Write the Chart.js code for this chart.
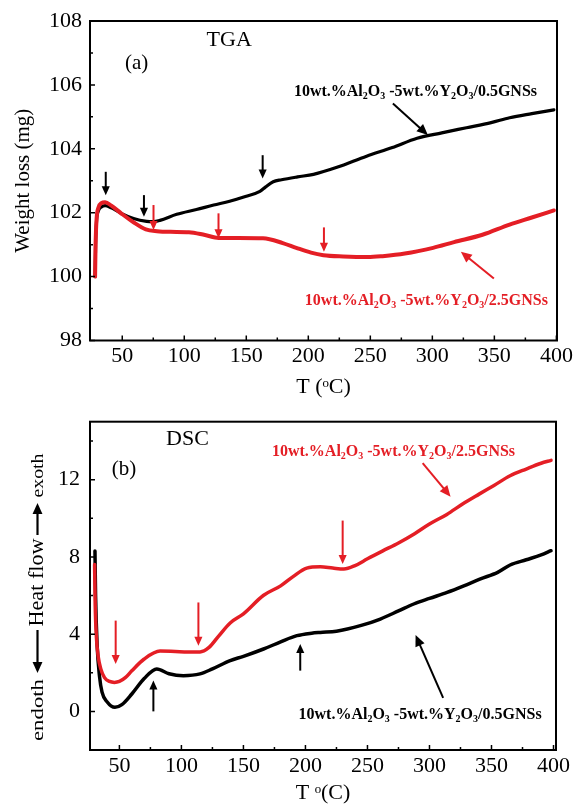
<!DOCTYPE html>
<html>
<head>
<meta charset="utf-8">
<script src="https://cdn.jsdelivr.net/npm/chart.js@4.4.1/dist/chart.umd.min.js"></script>
<style>
  body { margin: 0; background: #fff; width: 576px; height: 810px; overflow: hidden; position: relative; }
  canvas { position: absolute; left: 0; }
</style>
</head>
<body>
<canvas id="tga" width="576" height="400" style="top:0"></canvas>
<canvas id="dsc" width="576" height="410" style="top:400px"></canvas>
<script>
// ---- data ----
const xTicks = [50, 100, 150, 200, 250, 300, 350, 400];
const tgaTicks = [98, 100, 102, 104, 106, 108];
const dscTicks = [0, 4, 8, 12];

const labelLow = '10wt.%Al_2O_3 -5wt.%Y_2O_3/0.5GNSs';
const labelHigh = '10wt.%Al_2O_3 -5wt.%Y_2O_3/2.5GNSs';

// TGA, 2.5 GNSs (red)
const tgaRedT = [28.1, 28.5, 29.3, 30.7, 33.2, 36.2, 41.2, 49.1, 59.1, 69, 78, 88.9, 103.8, 116.7, 127.7, 143.6, 163.5, 179.4, 190.3, 202.2, 212.2, 228.1, 248, 259.9, 277.8, 300.6, 317.5, 340.4, 362.3, 380.2, 398];
const tgaRedW = [100.0, 101.0, 101.8, 102.15, 102.3, 102.33, 102.22, 101.98, 101.7, 101.48, 101.42, 101.4, 101.39, 101.3, 101.21, 101.21, 101.2, 101.05, 100.9, 100.75, 100.67, 100.63, 100.61, 100.64, 100.72, 100.9, 101.08, 101.31, 101.63, 101.85, 102.07];
// TGA, 0.5 GNSs (black)
const tgaBlackT = [28.1, 28.5, 29.3, 30.7, 33.2, 36.2, 41.2, 49.1, 59.1, 69.7, 75, 80.4, 93.9, 109.8, 123.7, 136.6, 148.6, 161, 165.4, 171.7, 178.4, 191.3, 204.2, 223.1, 247, 267.8, 287.7, 307.6, 327.5, 347.4, 362.3, 380.2, 398];
const tgaBlackW = [100.0, 101.0, 101.75, 102.05, 102.18, 102.22, 102.15, 101.98, 101.82, 101.73, 101.72, 101.76, 101.95, 102.1, 102.24, 102.36, 102.5, 102.67, 102.8, 102.97, 103.03, 103.12, 103.2, 103.42, 103.77, 104.04, 104.33, 104.5, 104.66, 104.82, 104.97, 105.1, 105.22];

// DSC, 2.5 GNSs (red)
const dscRedT = [30, 30.5, 31.5, 33, 35, 38, 42, 46, 50, 55, 60, 70, 82.8, 95, 105, 115, 122, 130, 139.3, 150, 166, 180, 190, 201, 212, 222, 231, 240, 250, 262, 275, 288, 300, 314, 327, 340, 352, 365, 378, 390, 398];
const dscRedH = [7.6, 5.5, 3.8, 2.8, 2.2, 1.75, 1.55, 1.5, 1.55, 1.76, 2.1, 2.71, 3.12, 3.1, 3.08, 3.08, 3.3, 3.9, 4.58, 5.05, 6.0, 6.5, 6.98, 7.42, 7.49, 7.42, 7.37, 7.55, 7.9, 8.3, 8.72, 9.2, 9.7, 10.2, 10.75, 11.25, 11.7, 12.2, 12.55, 12.85, 13.0];
// DSC, 0.5 GNSs (black)
const dscBlackT = [30.3, 30.8, 32, 34, 36, 40, 46.4, 52, 60, 70, 80.1, 90, 101.6, 115, 125, 139.3, 150, 166.2, 180, 193.1, 205, 212, 225, 245, 260.4, 275, 287.3, 300, 314.2, 327.7, 341.1, 355, 365, 378, 390, 398];
const dscBlackH = [8.3, 6.0, 3.5, 1.8, 1.0, 0.5, 0.21, 0.35, 0.9, 1.7, 2.2, 1.95, 1.85, 1.94, 2.2, 2.63, 2.85, 3.23, 3.6, 3.92, 4.05, 4.09, 4.15, 4.45, 4.78, 5.2, 5.56, 5.85, 6.16, 6.5, 6.86, 7.2, 7.58, 7.85, 8.1, 8.32];

// ---- styling ----
const FONT = '"Liberation Serif", "Times New Roman", serif';
const RED = '#e41e25';
const BLACK = '#000';

const pts = (xs, ys) => xs.map((x, i) => ({ x, y: ys[i] }));

// text with _2 style subscripts, left anchored, y = visual middle
function rich(ctx, str, x, y, size, bold, color) {
  const parts = str.split(/_(\d)/);
  const w = bold ? 'bold ' : '';
  const big = w + size + 'px ' + FONT;
  const small = w + Math.round(size * 0.62) + 'px ' + FONT;
  const base = y + size * 0.33;
  ctx.fillStyle = color;
  ctx.textAlign = 'left';
  ctx.textBaseline = 'alphabetic';
  let px = x;
  parts.forEach((p, i) => {
    ctx.font = i % 2 ? small : big;
    ctx.fillText(p, px, i % 2 ? base + size * 0.2 : base);
    px += ctx.measureText(p).width;
  });
}

function arrow(ctx, x1, y1, x2, y2, color, lw, head) {
  const a = Math.atan2(y2 - y1, x2 - x1);
  const hw = head * 0.45;
  ctx.strokeStyle = color;
  ctx.fillStyle = color;
  ctx.lineWidth = lw;
  ctx.beginPath();
  ctx.moveTo(x1, y1);
  ctx.lineTo(x2 - Math.cos(a) * head * 0.8, y2 - Math.sin(a) * head * 0.8);
  ctx.stroke();
  ctx.beginPath();
  ctx.moveTo(x2, y2);
  ctx.lineTo(x2 - Math.cos(a) * head - Math.sin(a) * hw, y2 - Math.sin(a) * head + Math.cos(a) * hw);
  ctx.lineTo(x2 - Math.cos(a) * head + Math.sin(a) * hw, y2 - Math.sin(a) * head - Math.cos(a) * hw);
  ctx.closePath();
  ctx.fill();
}

// frame, inward ticks, labels and arrows
function decor(o) {
  return {
    id: 'decor',
    afterDraw(chart) {
      const { ctx, chartArea: a } = chart;
      const sx = chart.scales.x, sy = chart.scales.y;
      ctx.save();
      ctx.strokeStyle = BLACK;
      ctx.lineWidth = 1.5;
      ctx.beginPath();
      for (let v = 50; v <= 400; v += 25) {
        const px = sx.getPixelForValue(v);
        const len = xTicks.includes(v) ? 5 : 3;
        ctx.moveTo(px, a.bottom);
        ctx.lineTo(px, a.bottom - len);
      }
      for (let v = o.yMinor[0]; v <= o.yMinor[1]; v += o.yMinor[2]) {
        const py = sy.getPixelForValue(v);
        const len = o.yMajor.includes(v) ? 5 : 3;
        ctx.moveTo(a.left, py);
        ctx.lineTo(a.left + len, py);
      }
      ctx.stroke();
      ctx.lineWidth = 2;
      ctx.strokeRect(a.left, a.top, a.right - a.left, a.bottom - a.top);

      o.arrows.forEach(([x1, y1, x2, y2, c, long]) => {
        arrow(ctx, sx.getPixelForValue(x1), sy.getPixelForValue(y1),
          sx.getPixelForValue(x2), sy.getPixelForValue(y2), c, 2, long ? 11 : 9);
      });
      o.texts.forEach(t => {
        rich(ctx, t.text, sx.getPixelForValue(t.x), sy.getPixelForValue(t.y), t.size, t.bold, t.color);
      });
      if (o.extra) o.extra(ctx);
      ctx.restore();
    }
  };
}

function rotText(ctx, text, x, cy, size, len) {
  ctx.save();
  ctx.translate(x, cy);
  ctx.rotate(-Math.PI / 2);
  ctx.font = size + 'px ' + FONT;
  const w = ctx.measureText(text).width;
  ctx.scale(len / w, 1);
  ctx.fillStyle = BLACK;
  ctx.textAlign = 'center';
  ctx.textBaseline = 'alphabetic';
  ctx.fillText(text, 0, 0);
  ctx.restore();
}

function xScale(min, max, title, titlePad, h) {
  return {
    type: 'linear', min, max,
    afterBuildTicks: s => { s.ticks = xTicks.map(v => ({ value: v })); },
    afterFit: s => { s.height = h; s.paddingLeft = 0; s.paddingRight = 0; },
    grid: { display: false, drawTicks: false },
    border: { display: false },
    ticks: { color: BLACK, font: { family: FONT, size: 22 }, padding: 3, maxRotation: 0 },
    title: { display: true, text: title, color: BLACK, font: { family: FONT, size: 22 }, padding: { top: 0, bottom: titlePad } }
  };
}

function yScale(min, max, ticks, width, pad, title) {
  return {
    min, max,
    afterBuildTicks: s => { s.ticks = ticks.map(v => ({ value: v })); },
    afterFit: s => { s.width = width; s.paddingTop = 0; s.paddingBottom = 0; },
    grid: { display: false, drawTicks: false },
    border: { display: false },
    ticks: { color: BLACK, font: { family: FONT, size: 22 }, padding: pad },
    title: title
      ? { display: true, text: title, color: BLACK, font: { family: FONT, size: 21 }, padding: { top: 11, bottom: 0 } }
      : { display: false }
  };
}

const common = {
  responsive: false,
  animation: false,
  devicePixelRatio: 1,
  elements: {
    point: { radius: 0 },
    line: { cubicInterpolationMode: 'monotone', borderCapStyle: 'round', borderJoinStyle: 'round' }
  },
  plugins: { legend: { display: false }, tooltip: { enabled: false } }
};

// ---- (a) TGA ----
new Chart(document.getElementById('tga'), {
  type: 'line',
  data: {
    datasets: [
      { label: labelHigh, data: pts(tgaRedT, tgaRedW), borderColor: RED, borderWidth: 4 },
      { label: labelLow, data: pts(tgaBlackT, tgaBlackW), borderColor: BLACK, borderWidth: 3.2 }
    ]
  },
  options: Object.assign({}, common, {
    layout: { padding: { left: 0, right: 19, top: 21, bottom: 0 } },
    scales: {
      x: xScale(24, 400.5, 'T (ᵒC)', 0, 59.5),
      y: yScale(98, 108, tgaTicks, 90, 8, 'Weight loss (mg)')
    }
  }),
  plugins: [decor({
    yMinor: [98, 108, 1], yMajor: tgaTicks,
    arrows: [
      [36.7, 103.28, 36.7, 102.55, BLACK],
      [67.5, 102.55, 67.5, 101.87, BLACK],
      [163.2, 103.8, 163.2, 103.07, BLACK],
      [268.2, 105.42, 296.4, 104.43, BLACK, true],
      [75.2, 102.24, 75.2, 101.46, RED],
      [127.6, 101.98, 127.6, 101.2, RED],
      [212.6, 101.54, 212.6, 100.78, RED],
      [349.6, 99.94, 323, 100.78, RED, true]
    ],
    texts: [
      { text: 'TGA', x: 118, y: 107.43, size: 22, color: BLACK },
      { text: '(a)', x: 52.2, y: 106.72, size: 21, color: BLACK },
      { text: labelLow, x: 188.4, y: 105.83, size: 16, bold: true, color: BLACK },
      { text: labelHigh, x: 197.2, y: 99.27, size: 16, bold: true, color: RED }
    ]
  })]
});

// ---- (b) DSC ----
new Chart(document.getElementById('dsc'), {
  type: 'line',
  data: {
    datasets: [
      { label: labelHigh, data: pts(dscRedT, dscRedH), borderColor: RED, borderWidth: 3.5 },
      { label: labelLow, data: pts(dscBlackT, dscBlackH), borderColor: BLACK, borderWidth: 3.5 }
    ]
  },
  options: Object.assign({}, common, {
    layout: { padding: { left: 0, right: 20, top: 21.7, bottom: 0 } },
    scales: {
      x: xScale(26.3, 402, 'T ᵒ(C)', 4, 60),
      y: yScale(-2, 15, dscTicks, 90, 10, null)
    }
  }),
  plugins: [decor({
    yMinor: [0, 14, 2], yMajor: dscTicks,
    arrows: [
      [47, 4.7, 47, 2.45, RED],
      [113.7, 5.64, 113.7, 3.4, RED],
      [230, 9.88, 230, 7.63, RED],
      [294.5, 12.85, 317, 11.12, RED, true],
      [77.4, 0.0, 77.4, 1.6, BLACK],
      [195.8, 2.11, 195.8, 3.49, BLACK],
      [311, 0.7, 288.8, 3.95, BLACK, true]
    ],
    texts: [
      { text: 'DSC', x: 87.6, y: 14.19, size: 22, color: BLACK },
      { text: '(b)', x: 43.8, y: 12.6, size: 21, color: BLACK },
      { text: labelHigh, x: 173, y: 13.5, size: 16, bold: true, color: RED },
      { text: labelLow, x: 194.4, y: -0.13, size: 16, bold: true, color: BLACK }
    ],
    extra: ctx => {
      // endoth <- Heat flow -> exoth
      rotText(ctx, 'endoth', 42.5, 310, 17, 62);
      rotText(ctx, 'Heat flow', 43, 182.5, 22, 88);
      rotText(ctx, 'exoth', 42.5, 75.5, 17, 44);
      arrow(ctx, 37.5, 230, 37.5, 273, BLACK, 2.2, 11);
      arrow(ctx, 37.5, 135, 37.5, 103, BLACK, 2.2, 11);
    }
  })]
});
</script>
</body>
</html>
